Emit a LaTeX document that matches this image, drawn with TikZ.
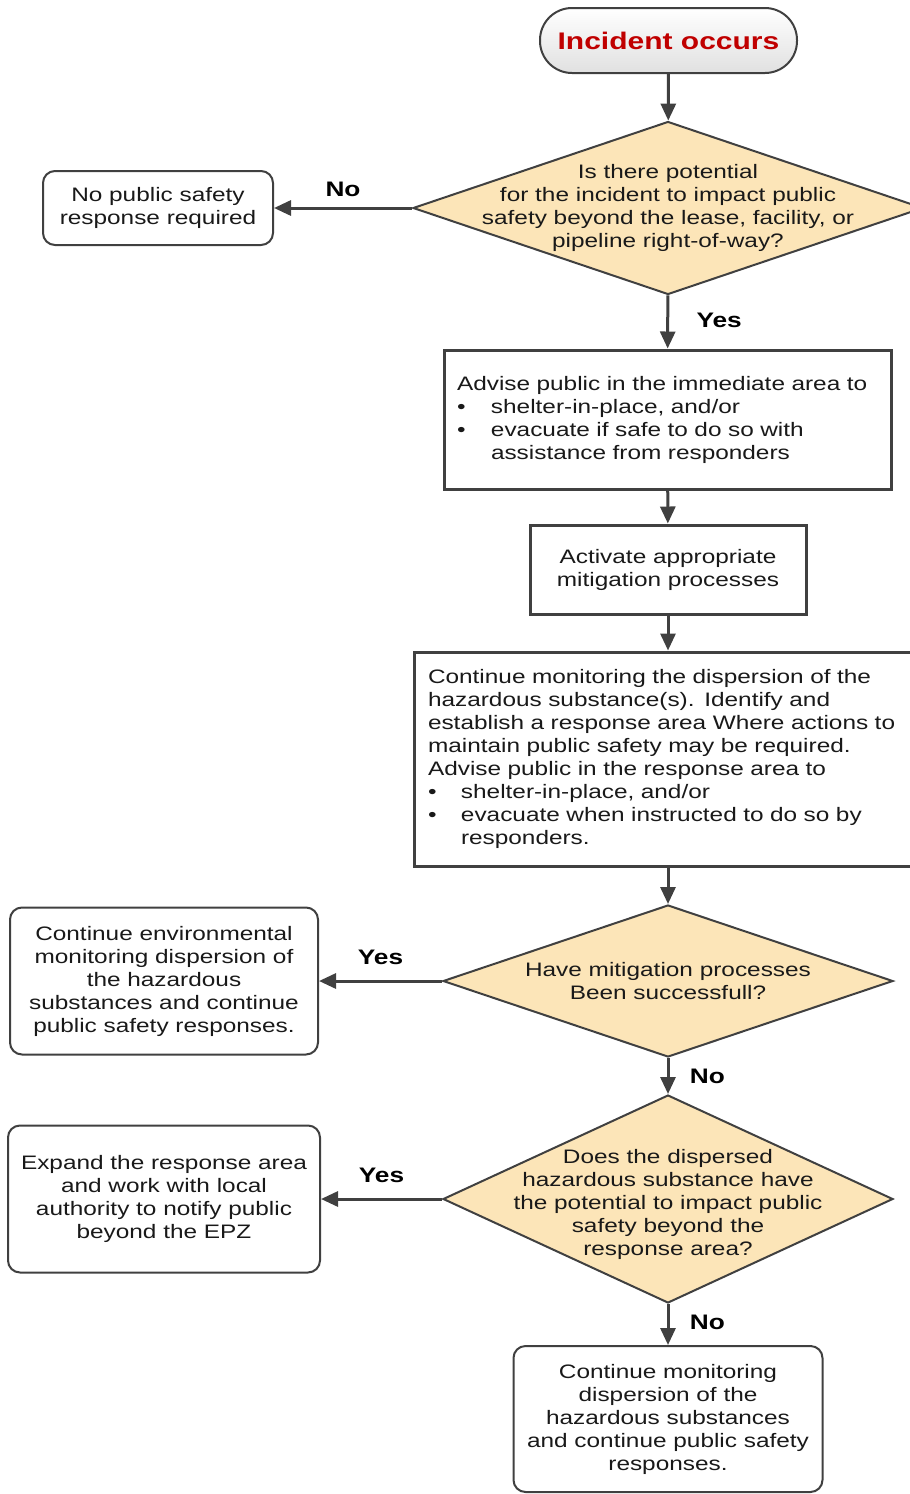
\documentclass[tikz,border=0pt]{standalone}
\usepackage{fontspec}
\setmainfont{Liberation Sans}[FakeStretch=1.25]
\usepackage{tikz}
\usetikzlibrary{shapes.geometric, arrows.meta}
\definecolor{linegrey}{HTML}{404040}
\definecolor{decfill}{HTML}{FCE5B8}
\definecolor{alertred}{HTML}{C00000}

\begin{document}
\begin{tikzpicture}[x=1pt, y=-1pt, >={Triangle[length=17pt,width=15pt]},
  every node/.style={font=\fontsize{19.5}{23}\selectfont, text=black!90},
  flow/.style={->, draw=linegrey, line width=3pt},
  sqbox/.style={draw=linegrey, line width=3pt, fill=white, inner ysep=0pt},
  rndbox/.style={draw=linegrey, line width=2pt, rounded corners=12pt, fill=white, align=center, inner sep=0pt},
  decision/.style={diamond, draw=linegrey, line width=2pt, fill=decfill, inner sep=0pt},
  qtext/.style={align=center},
  answer/.style={font=\bfseries\fontsize{21}{23}\selectfont, text=black}]
  \useasboundingbox (0,0) rectangle (910,1494);

  \node[draw=linegrey, line width=2pt, rounded corners=32pt, minimum width=257pt, minimum height=65pt,
        top color=white, bottom color=black!12, font=\bfseries\fontsize{24}{28}\selectfont, text=alertred]
        (start) at (668.5,40.5) {Incident occurs};

  \node[decision, minimum width=510pt, minimum height=173pt,
        label={[qtext]center:Is there potential\\for the incident to impact public\\safety beyond the lease, facility, or\\pipeline right-of-way?}]
        (q1) at (668,208) {};
  \node[rndbox, minimum width=230pt, minimum height=74pt] (nopublic) at (158,208) {No public safety\\response required};

  \node[sqbox, minimum height=139pt, text width=421pt, inner xsep=13pt, align=left] (advise) at (667.5,419.5)
    {Advise public in the immediate area to\\
     \makebox[34pt][l]{•}shelter-in-place, and/or\\
     \makebox[34pt][l]{•}evacuate if safe to do so with\\
     \hspace*{34pt}assistance from responders};
  \node[sqbox, minimum width=276pt, minimum height=89pt, align=center] (mitigate) at (668,569.5)
    {Activate appropriate\\mitigation processes};
  \node[sqbox, minimum height=214pt, text width=480pt, inner xsep=14pt, align=left] (monitor) at (668,759)
    {Continue monitoring the dispersion of the\\
     hazardous substance(s). Identify and\\
     establish a response area Where actions to\\
     maintain public safety may be required.\\
     Advise public in the response area to\\
     \makebox[33pt][l]{•}shelter-in-place, and/or\\
     \makebox[33pt][l]{•}evacuate when instructed to do so by\\
     \hspace*{33pt}responders.};

  \node[decision, minimum width=450pt, minimum height=152pt,
        label={[qtext]center:Have mitigation processes\\Been successfull?}]
        (q2) at (668,981) {};
  \node[rndbox, minimum width=308pt, minimum height=147pt] (envmon) at (164,981)
    {Continue environmental\\monitoring dispersion of\\the hazardous\\substances and continue\\public safety responses.};

  \node[decision, minimum width=450pt, minimum height=208pt,
        label={[qtext, yshift=-5pt]center:Does the dispersed\\hazardous substance have\\the potential to impact public\\safety beyond the\\response area?}]
        (q3) at (668,1199) {};
  \node[rndbox, minimum width=312pt, minimum height=147pt] (expand) at (164,1199)
    {Expand the response area\\and work with local\\authority to notify public\\beyond the EPZ};

  \node[rndbox, minimum width=309pt, minimum height=146pt] (final) at (668,1419)
    {Continue monitoring\\dispersion of the\\hazardous substances\\and continue public safety\\responses.};

  \draw[flow] (start) -- (q1);
  \draw[flow] (q1.west) -- (nopublic.east) node[answer, midway, above=6pt] {No};
  \draw[flow] (q1) -- (advise) node[answer, midway, right=24pt, yshift=2pt] {Yes};
  \draw[flow] (advise) -- (mitigate);
  \draw[flow] (mitigate) -- (monitor);
  \draw[flow] (monitor) -- (q2);
  \draw[flow] (q2.west) -- (envmon.east) node[answer, midway, above=11pt] {Yes};
  \draw[flow] (q2) -- (q3) node[answer, midway, right=17pt] {No};
  \draw[flow] (q3.west) -- (expand.east) node[answer, midway, above=11pt] {Yes};
  \draw[flow] (q3) -- (final) node[answer, midway, right=17pt, yshift=2pt] {No};
\end{tikzpicture}
\end{document}
